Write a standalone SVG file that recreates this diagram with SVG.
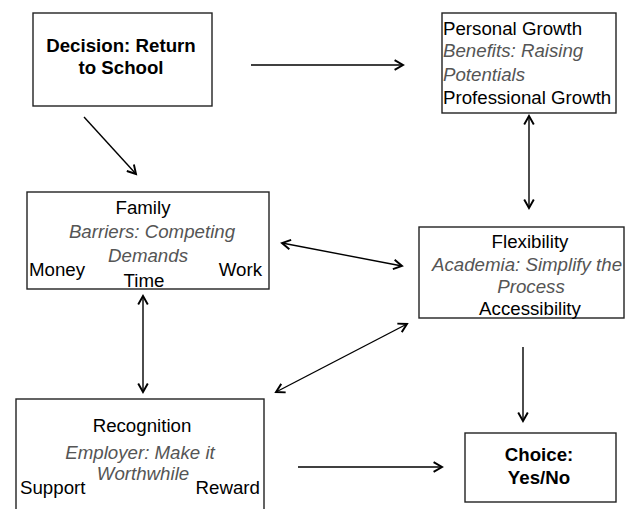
<svg xmlns="http://www.w3.org/2000/svg" width="626" height="509" viewBox="0 0 626 509">
<style>
.box{fill:#fff;stroke:#222;stroke-width:1.4}
.t{font-family:"Liberation Sans",Arial,sans-serif;font-size:18.7px;fill:#000}
.b{font-weight:bold}
.i{font-style:italic;fill:#555}
.m{text-anchor:middle}
.e{text-anchor:end}
.c{stroke:#000;stroke-width:1.4;fill:none;marker-end:url(#ah)}
.d{marker-start:url(#ah)}
</style>
<defs>
<marker id="ah" markerUnits="userSpaceOnUse" markerWidth="12" markerHeight="12" refX="8" refY="5" orient="auto-start-reverse" viewBox="0 0 10 10">
<path d="M1,1 L8,5 L1,9" fill="none" stroke="#000" stroke-width="1.6"/>
</marker>
</defs>
<rect width="626" height="509" fill="#fff"/>
<g id="connectors">
<line class="c" x1="84" y1="117" x2="136" y2="174"/>
<line class="c" x1="251" y1="65" x2="403" y2="65"/>
<line class="c d" x1="529" y1="116" x2="529" y2="208"/>
<line class="c d" x1="282" y1="243" x2="402" y2="266"/>
<line class="c d" x1="143" y1="296" x2="143" y2="392"/>
<line class="c d" x1="276" y1="392" x2="407" y2="324"/>
<line class="c" x1="298" y1="467" x2="442" y2="467"/>
<line class="c" x1="523" y1="347" x2="523" y2="421"/>
</g>
<g id="decision">
<rect class="box" x="33" y="13" width="179" height="93"/>
<text class="t b m" x="121" y="52">Decision: Return</text>
<text class="t b m" x="121" y="74">to School</text>
</g>
<g id="personal">
<rect class="box" x="442" y="13" width="174" height="100"/>
<text class="t" x="443" y="35">Personal Growth</text>
<text class="t i" x="443" y="57">Benefits: Raising</text>
<text class="t i" x="443" y="81">Potentials</text>
<text class="t" x="443" y="104">Professional Growth</text>
</g>
<g id="family">
<rect class="box" x="27" y="192" width="242" height="97"/>
<text class="t m" x="143" y="214">Family</text>
<text class="t i m" x="152" y="238">Barriers: Competing</text>
<text class="t i m" x="148" y="262">Demands</text>
<text class="t" x="29" y="276">Money</text>
<text class="t e" x="262" y="276">Work</text>
<text class="t m" x="144" y="287">Time</text>
</g>
<g id="flexibility">
<rect class="box" x="419" y="227" width="205" height="91"/>
<text class="t m" x="530" y="248">Flexibility</text>
<text class="t i m" x="527" y="271">Academia: Simplify the</text>
<text class="t i m" x="531" y="293">Process</text>
<text class="t m" x="530" y="315">Accessibility</text>
</g>
<g id="recognition">
<rect class="box" x="16" y="399" width="248" height="120"/>
<text class="t m" x="142" y="432">Recognition</text>
<text class="t i m" x="140" y="459">Employer: Make it</text>
<text class="t i m" x="143" y="480">Worthwhile</text>
<text class="t" x="20" y="494">Support</text>
<text class="t e" x="260" y="494">Reward</text>
</g>
<g id="choice">
<rect class="box" x="465" y="433" width="151" height="69"/>
<text class="t b m" x="539" y="461">Choice:</text>
<text class="t b m" x="539" y="484">Yes/No</text>
</g>
</svg>
